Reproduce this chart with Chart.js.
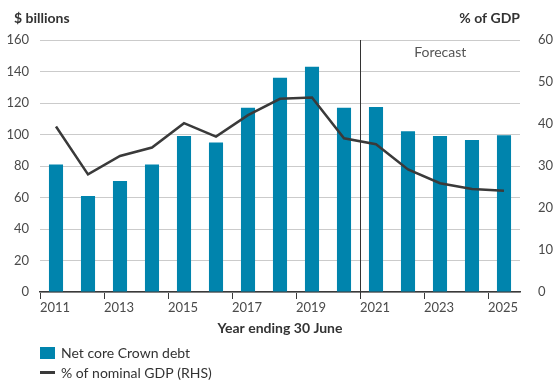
<!DOCTYPE html>
<html>
<head>
<meta charset="utf-8">
<title>Net core Crown debt</title>
<script src="https://cdn.jsdelivr.net/npm/chart.js@4/dist/chart.umd.min.js"></script>
<style>
  html, body { margin: 0; padding: 0; background: #ffffff; }
  canvas { display: block; }
</style>
</head>
<body>
<canvas id="debtChart" width="554" height="381"></canvas>
<script>
// Year ending 30 June
const years = ['2011', '2012', '2013', '2014', '2015', '2016', '2017', '2018',
               '2019', '2020', '2021', '2022', '2023', '2024', '2025'];

// Net core Crown debt, $ billions
const netCoreDebt = [81, 61, 70.5, 81, 99, 95, 117, 136, 143, 117, 117.5, 102, 99, 96.5, 99.5];

// Net core Crown debt as % of nominal GDP
const debtPctGdp = [39.4, 28.0, 32.4, 34.4, 40.2, 37.0, 42.1, 46.0, 46.3, 36.6, 35.2, 29.2, 25.9, 24.5, 24.1];

// Axis ranges
const leftTicks = { min: 0, max: 160, step: 20 };
const rightTicks = { min: 0, max: 60, step: 10 };

// First forecast year
const forecastStart = '2021';

const barColor = '#0084ad';
const lineColor = '#3a3a3a';
const textColor = '#333333';
const tickColor = '#4a4a4a';
const gridColor = '#cbcbcb';
const fontFamily = 'Lato, "Open Sans", "DejaVu Sans", sans-serif';

Chart.defaults.font.family = fontFamily;
Chart.defaults.color = tickColor;

// Titles, forecast divider and a stacked legend drawn on the canvas
const annotations = {
  id: 'annotations',
  afterDraw(chart) {
    const { ctx, chartArea, scales } = chart;
    const x = scales.x;
    ctx.save();

    // Axis unit titles
    ctx.fillStyle = textColor;
    ctx.font = 'bold 14px ' + fontFamily;
    ctx.textBaseline = 'middle';
    ctx.textAlign = 'left';
    ctx.fillText('$ billions', 14, 18);
    ctx.textAlign = 'right';
    ctx.fillText('% of GDP', chartArea.right, 18);

    // X axis title
    ctx.textAlign = 'center';
    ctx.fillText('Year ending 30 June', (chartArea.left + chartArea.right) / 2, 328);

    // Forecast divider between the last actual and first forecast year
    const idx = years.indexOf(forecastStart);
    const divX = Math.round((x.getPixelForValue(idx - 1) + x.getPixelForValue(idx)) / 2) + 0.5;
    ctx.strokeStyle = '#333333';
    ctx.lineWidth = 1;
    ctx.beginPath();
    ctx.moveTo(divX, chartArea.top);
    ctx.lineTo(divX, chartArea.bottom + 7);
    ctx.stroke();

    ctx.fillStyle = '#555555';
    ctx.font = '14px ' + fontFamily;
    ctx.textAlign = 'center';
    ctx.fillText('Forecast', (divX + chartArea.right) / 2, 52);

    // Legend
    const ds = chart.data.datasets;
    ctx.font = '14px ' + fontFamily;
    ctx.textAlign = 'left';
    ctx.fillStyle = ds[0].backgroundColor;
    ctx.fillRect(chartArea.left, 347, 15, 12);
    ctx.fillStyle = textColor;
    ctx.fillText(ds[0].label, chartArea.left + 21, 353);

    ctx.strokeStyle = ds[1].borderColor;
    ctx.lineWidth = 3;
    ctx.beginPath();
    ctx.moveTo(chartArea.left, 372.5);
    ctx.lineTo(chartArea.left + 15, 372.5);
    ctx.stroke();
    ctx.fillText(ds[1].label, chartArea.left + 21, 373);

    ctx.restore();
  }
};

new Chart(document.getElementById('debtChart'), {
  type: 'bar',
  data: {
    labels: years,
    datasets: [
      {
        type: 'bar',
        label: 'Net core Crown debt',
        data: netCoreDebt,
        backgroundColor: barColor,
        borderWidth: 0,
        barPercentage: 0.44,
        categoryPercentage: 1.0,
        yAxisID: 'y',
        order: 1
      },
      {
        type: 'line',
        label: '% of nominal GDP (RHS)',
        data: debtPctGdp,
        borderColor: lineColor,
        borderWidth: 2.5,
        pointRadius: 0,
        tension: 0,
        fill: false,
        yAxisID: 'y1',
        order: 0
      }
    ]
  },
  options: {
    responsive: false,
    animation: false,
    devicePixelRatio: 1,
    layout: { padding: { top: 40, bottom: 41, left: 0, right: 0 } },
    plugins: {
      legend: { display: false },
      tooltip: { enabled: false }
    },
    scales: {
      x: {
        offset: true,
        grid: {
          offset: true,
          drawOnChartArea: false,
          drawTicks: true,
          tickLength: 7,
          lineWidth: 1,
          color: (c) => (c.index % 2 === 0 ? '#3a3a3a' : 'rgba(0,0,0,0)')
        },
        border: { display: true, color: '#3a3a3a', width: 1.5 },
        ticks: {
          autoSkip: false,
          maxRotation: 0,
          minRotation: 0,
          align: 'start',
          labelOffset: -16,
          padding: 1,
          color: tickColor,
          font: { size: 13 },
          callback: (v, i) => (i % 2 === 0 ? years[i] : '')
        },
        afterFit: (s) => { s.height = 48; }
      },
      y: {
        position: 'left',
        min: leftTicks.min,
        max: leftTicks.max,
        grid: { color: gridColor, lineWidth: 1, drawTicks: false },
        border: { display: false },
        ticks: {
          stepSize: leftTicks.step,
          padding: 11,
          color: tickColor,
          font: { size: 13 }
        },
        afterFit: (s) => { s.width = 40; }
      },
      y1: {
        position: 'right',
        min: rightTicks.min,
        max: rightTicks.max,
        grid: { display: false, drawOnChartArea: false },
        border: { display: false },
        ticks: {
          stepSize: rightTicks.step,
          padding: 10,
          color: tickColor,
          font: { size: 13 }
        },
        afterFit: (s) => { s.width = 34; }
      }
    }
  },
  plugins: [annotations]
});
</script>
</body>
</html>
